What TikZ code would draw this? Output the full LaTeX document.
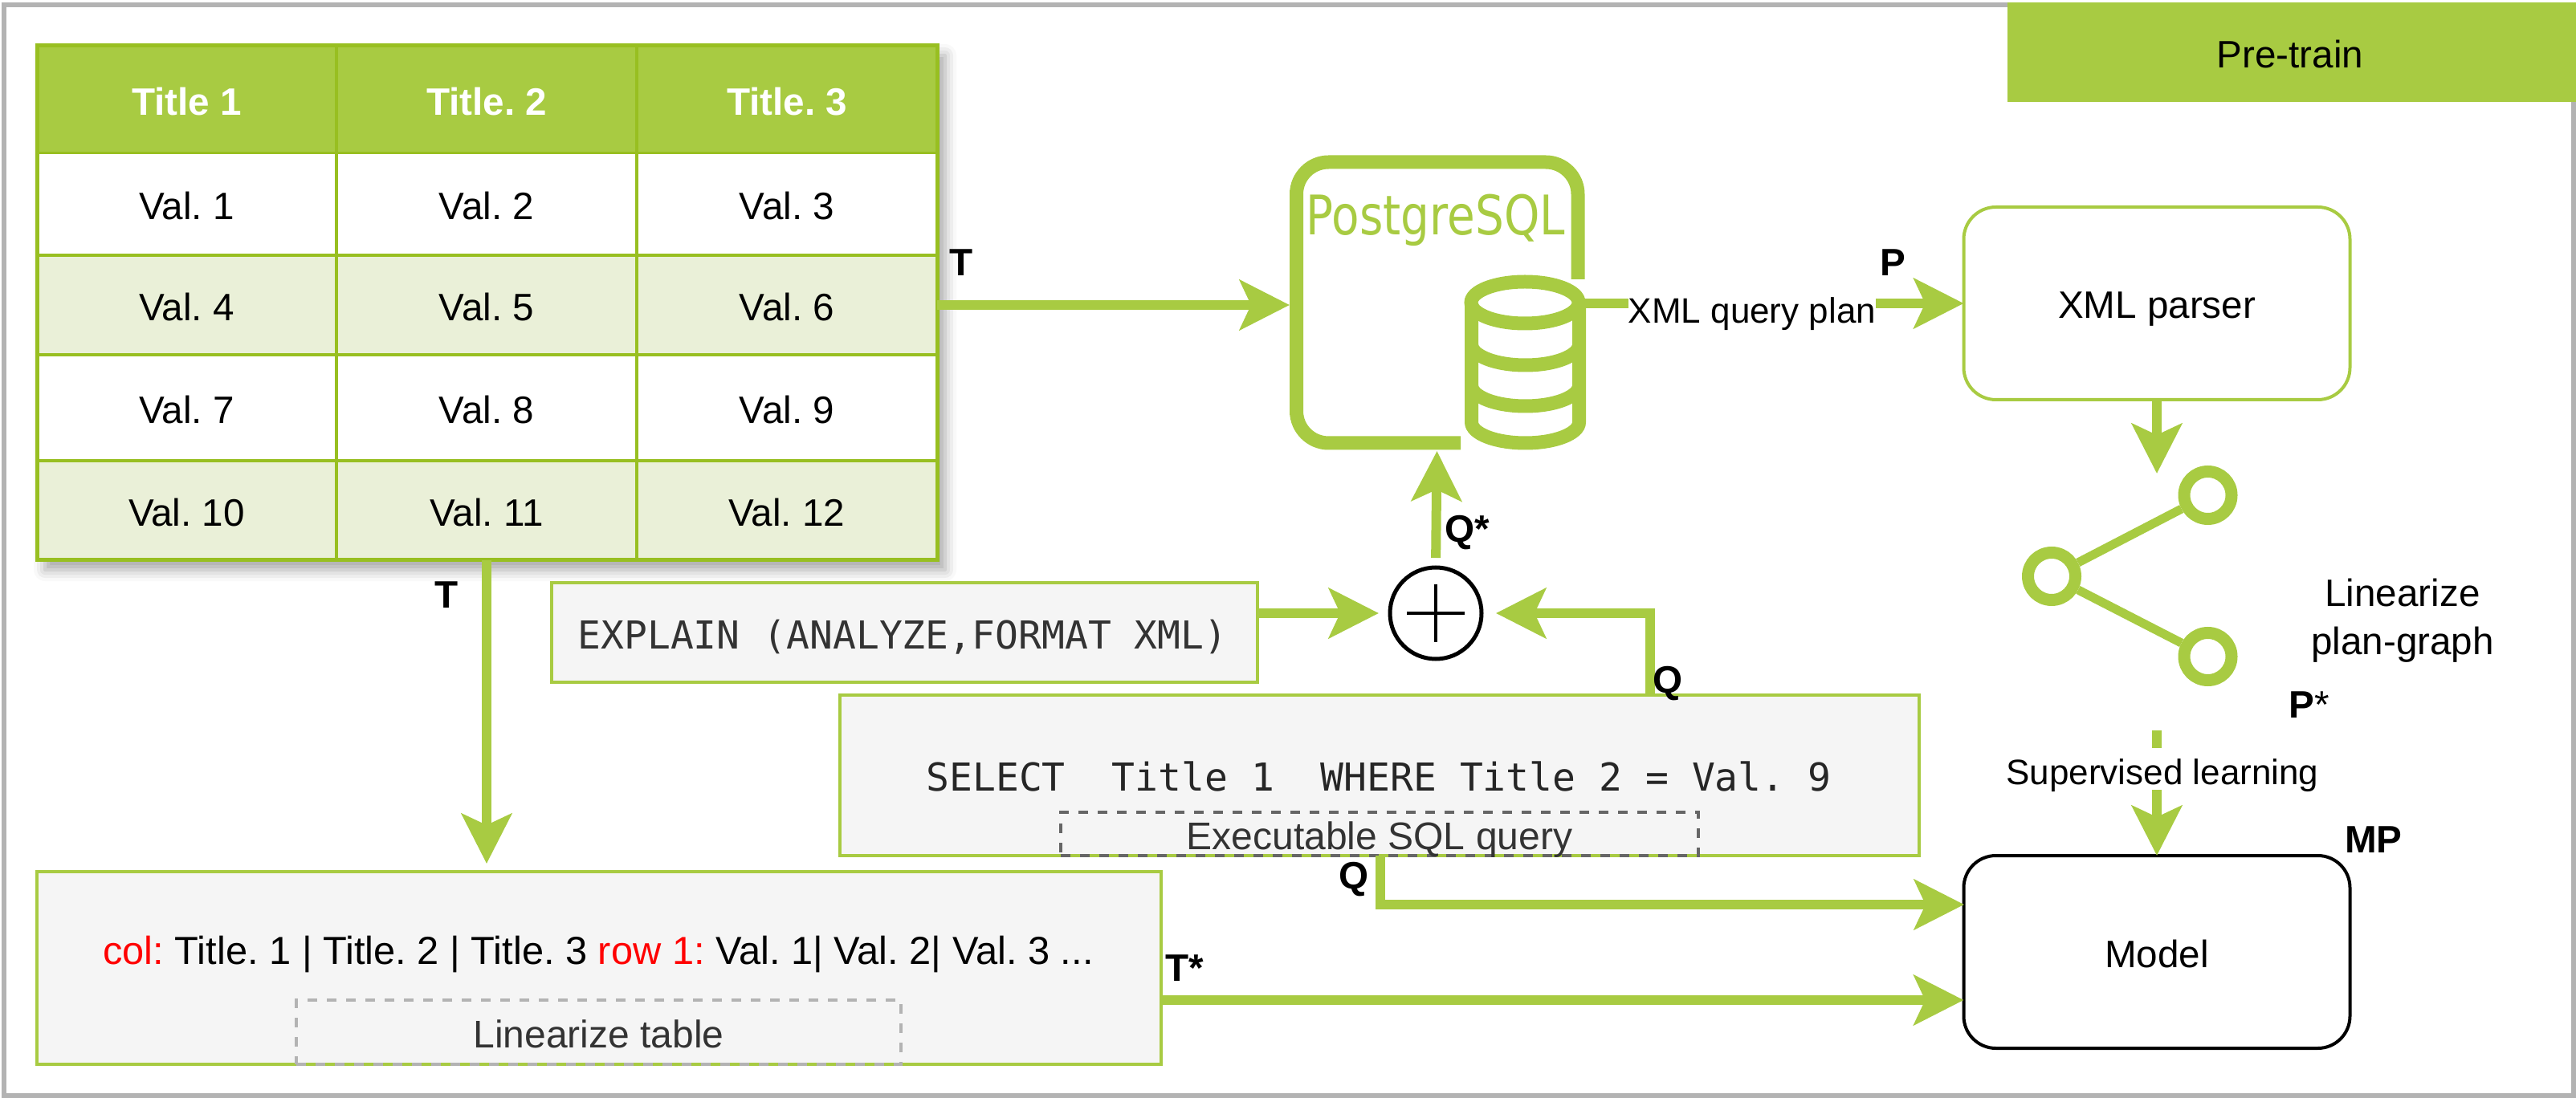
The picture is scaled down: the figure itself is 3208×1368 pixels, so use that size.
\documentclass[tikz,border=0pt]{standalone}
\usepackage{fontspec}
\setmainfont{Liberation Sans}
\setmonofont{DejaVu Sans Mono}
\newfontfamily\pgfamily{DejaVu Sans}
\usetikzlibrary{arrows.meta,shadows.blur}

\definecolor{limefill}{HTML}{A8CB42}
\definecolor{limeline}{HTML}{98BF21}
\definecolor{limepale}{HTML}{EAF0D8}
\definecolor{panelgray}{HTML}{F5F5F5}
\definecolor{framegray}{HTML}{B3B3B3}
\definecolor{capgray}{HTML}{333333}

\newcommand{\basefont}{\fontsize{23.8}{30}\selectfont}

\tikzset{
    flowtip/.tip={Stealth[length=31pt,width=31pt,inset=7pt]},
    flow/.style={draw=limefill,line width=6pt},
    txt/.style={font=\basefont,inner sep=0pt,outer sep=0pt,text height=19pt,text depth=0pt},
    tag/.style={txt,font=\basefont\bfseries,text height=16.8pt},
    cell/.style={txt,draw=limeline,line width=1.75pt,text height=19.5pt,minimum width=187pt},
    headcell/.style={cell,fill=limefill,text=white,font=\basefont\bfseries,minimum height=66.75pt},
    panel/.style={draw=limefill,line width=2pt,fill=panelgray,inner sep=0pt,outer sep=0pt},
    capbox/.style={dashed,dash pattern=on 6pt off 6pt,line width=1.75pt,inner sep=0pt,outer sep=0pt,
        text=capgray,font=\fontsize{24}{30}\selectfont,text height=19pt,text depth=0pt},
    planbox/.style={rectangle,rounded corners=20pt,line width=2pt,inner sep=0pt,outer sep=0pt,font=\basefont,
        minimum width=240.5pt,minimum height=120pt},
    gnode/.style={circle,draw=limefill,line width=7.5pt,minimum size=29.5pt,inner sep=0pt,outer sep=3.75pt}
}

\begin{document}
\frenchspacing
\begin{tikzpicture}[x=0.5pt,y=-0.5pt]
\useasboundingbox (0,0) rectangle (3208,1368);

\draw [framegray,line width=3pt] (5,6) rectangle (3205,1365);
\node (pretrain) [fill=limefill,inner sep=0pt,outer sep=0pt,minimum width=354pt,minimum height=62pt] at (2854,65) {};
\node (pretraintxt) [txt,text height=16.8pt] at (2852,68) {Pre-train};

% table
\node (tableframe) [draw=limeline,line width=2.5pt,fill=white,inner sep=0pt,outer sep=0pt,
    minimum width=560.5pt,minimum height=320.5pt,
    blur shadow={shadow xshift=5pt,shadow yshift=-6pt,shadow blur radius=7pt,shadow opacity=35}] at (606.5,377.5) {};

\begin{scope}[every node/.style={headcell}]
    \node (h1) at (232.5,123.75) {Title 1};
    \node (h2) at (606,123.75) {Title. 2};
    \node (h3) at (980,123.75) {Title. 3};
\end{scope}

\begin{scope}[every node/.style={cell,fill=white}]
    \node (v1) [minimum height=63.75pt] at (232.5,254.25) {Val. 1};
    \node (v2) [minimum height=63.75pt] at (606,254.25) {Val. 2};
    \node (v3) [minimum height=63.75pt] at (980,254.25) {Val. 3};

    \node (v7) [minimum height=66pt] at (232.5,508) {Val. 7};
    \node (v8) [minimum height=66pt] at (606,508) {Val. 8};
    \node (v9) [minimum height=66pt] at (980,508) {Val. 9};
\end{scope}

\begin{scope}[every node/.style={cell,fill=limepale}]
    \node (v4) [minimum height=62pt] at (232.5,380) {Val. 4};
    \node (v5) [minimum height=62pt] at (606,380) {Val. 5};
    \node (v6) [minimum height=62pt] at (980,380) {Val. 6};

    \node (v10) [minimum height=62pt] at (232.5,636) {Val. 10};
    \node (v11) [minimum height=62pt] at (606,636) {Val. 11};
    \node (v12) [minimum height=62pt] at (980,636) {Val. 12};
\end{scope}

\draw [limeline,line width=2.5pt] (tableframe.north west) rectangle (tableframe.south east);

% postgres icon
\begin{scope}[line width=8.5pt]
    \draw [limefill,rounded corners=20pt] (1819,552) -- (1614.5,552) -- (1614.5,202) -- (1965,202) -- (1965,348);
    \draw [limefill] (1899,377) ellipse [x radius=33.5pt,y radius=13pt];
    \draw [limefill] (1832.5,377) -- (1832.5,526) arc [start angle=180,end angle=360,x radius=33.5pt,y radius=13pt] -- (1966.5,377);
    \draw [limefill] (1832.5,429) arc [start angle=180,end angle=360,x radius=33.5pt,y radius=13pt];
    \draw [limefill] (1832.5,480) arc [start angle=180,end angle=360,x radius=33.5pt,y radius=13pt];
\end{scope}
\node (pgname) [font=\pgfamily\fontsize{34}{40}\selectfont,text=limefill,xscale=0.83,inner sep=0pt,
    text height=24.8pt,text depth=0pt] at (1788,268) {PostgreSQL};
\coordinate (pgleft) at (1606,380);
\coordinate (pgbottom) at (1789.5,562);
\coordinate (dbright) at (1974,378);

% boxes
\node (parser) [planbox,draw=limefill,text height=19pt,text depth=0pt] at (2686,378) {XML parser};
\node (model) [planbox,draw=black,text height=19pt,text depth=0pt] at (2686,1186) {Model};

\node (explain) [panel,minimum width=439.5pt,minimum height=62pt] at (1126.5,788) {};
\node (explaintxt) [txt,font=\ttfamily\fontsize{24}{28}\selectfont,text=capgray] at (1124,790) {EXPLAIN (ANALYZE,FORMAT XML)};

\node (select) [panel,minimum width=672pt,minimum height=100pt] at (1718,966) {};
\node (selecttxt) [txt,font=\ttfamily\fontsize{24}{28}\selectfont,text=black!85] at (1717,966) {SELECT\ \ Title 1\ \ WHERE Title 2 = Val. 9};
\node (execbox) [capbox,draw=black!60,minimum width=397pt,minimum height=27pt] at (1718,1039) {Executable SQL query};

\node (linear) [panel,minimum width=700pt,minimum height=120pt] at (746,1206) {};
\node (lineartxt) [txt,font=\fontsize{24.4}{28}\selectfont] at (745,1182) {\textcolor{red}{col:} Title. 1 | Title. 2 | Title. 3 \textcolor{red}{row 1:} Val. 1| Val. 2| Val. 3 ...};
\node (linbox) [capbox,draw=framegray,minimum width=376.5pt,minimum height=40pt] at (745.5,1286) {Linearize table};

% plan graph
\begin{scope}[every node/.style={gnode}]
    \node (groot) at (2555,718) {};
    \node (gtop) at (2749.5,617) {};
    \node (gbot) at (2749.5,818) {};
\end{scope}
\path [draw=limefill,line width=5.5pt] (groot) edge (gtop);
\path [draw=limefill,line width=5.5pt] (groot) edge (gbot);
\node (graphtxt) [font=\basefont,align=center,inner sep=0pt] at (2992,773) {Linearize\\plan-graph};

% sum
\node (plus) [circle,draw=black,line width=2.5pt,minimum size=57pt,inner sep=0pt,outer sep=0pt] at (1788,764) {};
\draw [line width=2pt] ([xshift=-18pt]plus.center) -- ([xshift=18pt]plus.center);
\draw [line width=2pt] ([yshift=-18pt]plus.center) -- ([yshift=18pt]plus.center);

\coordinate (qup) at (2055,866);
\coordinate (qdown) at (1719,1066);
\coordinate (plantail) at (2686,910);
\coordinate (graphin) at (2686,590);
\coordinate (tleft) at (1446,1246);
\coordinate (tdown) at (606,698);
\coordinate (tright) at (1167,380);

% connectors
\begin{scope}[every edge/.style={flow,draw}]
    \path [-{flowtip}] (tright) edge (pgleft);
    \path [-{flowtip}] (dbright) edge (parser.west);
    \path [-{flowtip}] (parser.south) edge (graphin);
    \path [-{flowtip}] (plantail) edge (model.north);
    \path [-{flowtip},shorten <=6pt] (plus.north) edge (pgbottom);
    \path [-{flowtip},shorten >=7pt] (explain.east |- plus.west) edge (plus.west);
    \path [-{flowtip}] (tdown) edge ([yshift=5pt]linear.north -| tdown);
    \path [-{flowtip}] (tleft) edge (tleft -| model.west);
\end{scope}
\draw [flow,-{flowtip},shorten >=9pt] (qup) |- (plus.east);
\draw [flow,-{flowtip}] (qdown) |- (2446,1127);

% labels over the lines
\node (xmlplan) [txt,font=\fontsize{22}{28}\selectfont,fill=white,minimum width=153.5pt,minimum height=20pt] at (2182,384) {XML query plan};
\node (suplabel) [txt,font=\fontsize{22}{28}\selectfont,fill=white,minimum width=193pt,minimum height=26pt] at (2693,958) {Supervised learning};

\begin{scope}[every node/.style={tag}]
    \node (tlabel1) at (1197,327) {T};
    \node (tlabel2) at (556,741) {T};
    \node (plabel) at (2357,327) {P};
    \node (qslabel) at (1827,659) {Q*};
    \node (qlabel1) at (2077,847) {Q};
    \node (qlabel2) at (1686,1091) {Q};
    \node (pslabel) at (2876,878) {P\textmd{*}};
    \node (tslabel) at (1475,1206) {T*};
    \node (mplabel) at (2956,1046) {MP};
\end{scope}
\end{tikzpicture}
\end{document}
